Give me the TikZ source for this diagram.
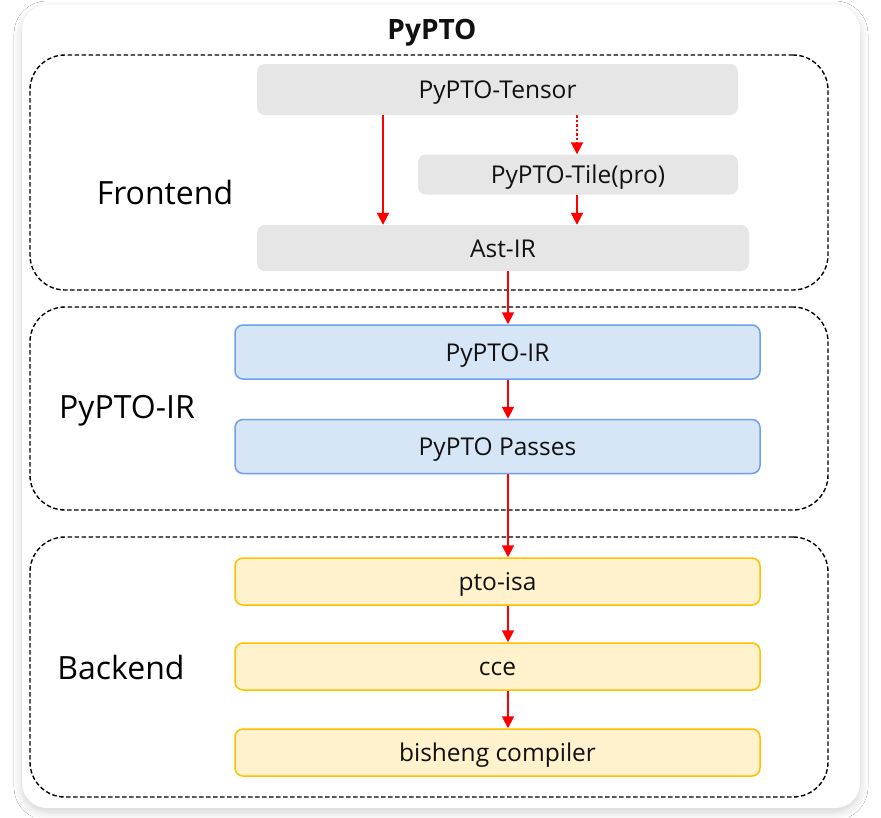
\documentclass[tikz,border=0pt]{standalone}
\usepackage{fontspec}
\setmainfont{Open Sans}
\usetikzlibrary{arrows.meta,shadows.blur}
\definecolor{grayfill}{HTML}{E6E6E6}
\definecolor{bluefill}{HTML}{D6E6F6}
\definecolor{blueline}{HTML}{6FA0EE}
\definecolor{yelfill}{HTML}{FFF2CC}
\definecolor{yelline}{HTML}{FFC000}
\definecolor{txt}{HTML}{111111}
\begin{document}
\begin{tikzpicture}[x=1pt,y=-1pt,
  panel/.style={fill=white, rounded corners=25pt, blur shadow={shadow blur steps=12, shadow xshift=0pt, shadow yshift=-4pt, shadow blur radius=8pt, shadow opacity=18}},
  frame/.style={draw=black, line width=1.4pt, dash pattern=on 4.5pt off 2.5pt, rounded corners=35pt},
  boxtext/.style={font=\fontsize{24.5}{28}\selectfont, text=txt, text height=20pt, text depth=2pt},
  graybox/.style={boxtext, fill=grayfill, rounded corners=8pt},
  bluebox/.style={boxtext, fill=bluefill, draw=blueline, line width=1.5pt, rounded corners=8pt, minimum width=525pt, minimum height=54pt},
  yelbox/.style={boxtext, fill=yelfill, draw=yelline, line width=1.5pt, rounded corners=8pt, minimum width=525pt, minimum height=47pt},
  lbl/.style={font=\fontsize{32}{36}\selectfont, text=black},
  arr/.style={draw=red, line width=1.9pt, -{Triangle[width=12pt,length=12pt]}},
  dotarr/.style={arr, dash pattern=on 2.5pt off 2pt}
]
\useasboundingbox (0,0) rectangle (881,817);
\fill[white] (0,0) rectangle (881,817);
\path[panel] (22,5) rectangle (860,808);

\node[font=\bfseries\fontsize{28}{32}\selectfont, text=txt] (title) at (432,33) {PyPTO};

% frames
\node[frame, minimum width=798pt, minimum height=235pt] (fe) at (429,172.5) {};
\node[frame, minimum width=798pt, minimum height=203pt] (ir) at (429,408.5) {};
\node[frame, minimum width=798pt, minimum height=260pt] (be) at (429,667) {};

\node[lbl] (lfe) at (165,192) {Frontend};
\node[lbl] (lir) at (127,411) {PyPTO-IR};
\node[lbl] (lbe) at (121,667) {Backend};

% frontend boxes
\node[graybox, minimum width=481pt, minimum height=51pt] (tensor) at (497.5,89.5) {PyPTO-Tensor};
\node[graybox, minimum width=320pt, minimum height=40pt] (tile) at (578,174.5) {PyPTO-Tile(pro)};
\node[graybox, minimum width=492pt, minimum height=46pt] (ast) at (503,248) {Ast-IR};

% IR boxes
\node[bluebox] (pir) at (497.5,352) {PyPTO-IR};
\node[bluebox] (pass) at (497.5,446.5) {PyPTO Passes};

% backend boxes
\node[yelbox] (isa) at (497.5,581.5) {pto-isa};
\node[yelbox] (cce) at (497.5,666.5) {cce};
\node[yelbox] (bis) at (497.5,752.5) {bisheng compiler};

\coordinate (xl) at (383,0);
\coordinate (xr) at (577,0);
\coordinate (xm) at (508,0);

\draw[arr] (tensor.south -| xl) -- (ast.north -| xl);
\draw[dotarr] (tensor.south -| xr) -- (tile.north -| xr);
\draw[arr] (tile.south -| xr) -- (ast.north -| xr);
\draw[arr] (ast.south -| xm) -- (pir.north -| xm);
\draw[arr] (pir.south -| xm) -- (pass.north -| xm);
\draw[arr] (pass.south -| xm) -- (isa.north -| xm);
\draw[arr] (isa.south -| xm) -- (cce.north -| xm);
\draw[arr] (cce.south -| xm) -- (bis.north -| xm);
\end{tikzpicture}
\end{document}
